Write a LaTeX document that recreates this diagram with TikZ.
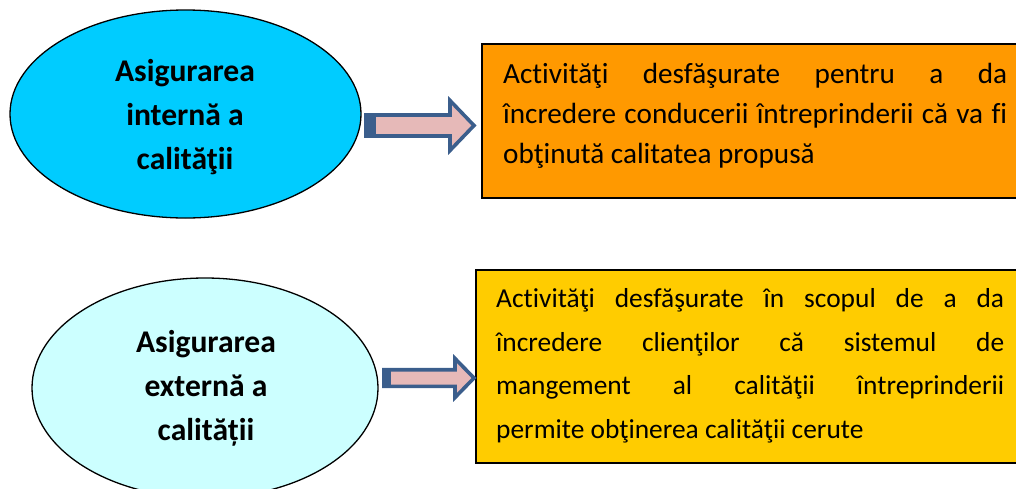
\documentclass[tikz,border=0pt]{standalone}
\usepackage{fontspec}
\setmainfont{Carlito}[RawFeature={-liga;-clig;-calt;-dlig}]
\usetikzlibrary{shapes.geometric}

\definecolor{cyanfill}{HTML}{00CCFF}
\definecolor{palecyan}{HTML}{CCFFFF}
\definecolor{orangefill}{HTML}{FF9900}
\definecolor{goldfill}{HTML}{FFCC00}
\definecolor{arrowblue}{HTML}{3B5E8C}
\definecolor{arrowpink}{HTML}{E6B9B8}

\tikzset{
  oval/.style={ellipse, draw=black, line width=1.3pt, inner sep=0pt},
  ovaltext/.style={font=\fontsize{31.6}{44}\selectfont\bfseries, align=center,
    inner sep=0pt, anchor=base},
  infobox/.style={draw=black, line width=2.4pt, inner sep=0pt, anchor=north west},
  infotext/.style={align=left, inner sep=0pt, anchor=base west},
  % block arrow: length, shaft half-width, head half-width, head length, tail block
  pics/blockarrow/.style n args={5}{code={
    \draw[draw=arrowblue, fill=arrowpink, line width=3.6pt, line join=miter]
      (2,-#2) -- (#1-#4,-#2) -- (#1-#4,-#3) -- (#1-3,0)
      -- (#1-#4,#3) -- (#1-#4,#2) -- (2,#2) -- cycle;
    \fill[arrowblue] (0,-#2-2) rectangle (#5,#2+2);
  }}
}

\begin{document}
\begin{tikzpicture}[x=1pt,y=-1pt]
\useasboundingbox (0,0) rectangle (1016,488);

% upper row: internal quality assurance
% (text nodes are placed by the baseline of their last line)
\node[oval, fill=cyanfill, minimum width=351pt, minimum height=208pt]
  (e1) at (185.5,114) {};
\node[ovaltext] (e1t) at (185,169) {Asigurarea\\internă a\\calităţii};

\node[infobox, fill=orangefill, minimum width=545pt, minimum height=154pt]
  (b1) at (481,43) {};
\node[infotext, font=\fontsize{29.2}{40}\selectfont] (b1t) at (503,163) {%
  \makebox[504pt][s]{Activităţi desfăşurate pentru a da}\\
  \makebox[504pt][s]{încredere conducerii întreprinderii că va fi}\\
  obţinută calitatea propusă};

\coordinate (a1) at (364,125.5);
\pic at (a1) {blockarrow={113}{10.5}{25}{27}{12}};

% lower row: external quality assurance
\node[oval, fill=palecyan, minimum width=346pt, minimum height=220pt]
  (e2) at (205,388) {};
\node[ovaltext] (e2t) at (206,440) {Asigurarea\\externă a\\calității};

\node[infobox, fill=goldfill, minimum width=550pt, minimum height=193pt]
  (b2) at (475,269) {};
\node[infotext, font=\fontsize{27.4}{43.4}\selectfont] (b2t) at (496,438) {%
  \makebox[508pt][s]{Activităţi desfăşurate în scopul de a da}\\
  \makebox[508pt][s]{încredere clienţilor că sistemul de}\\
  \makebox[508pt][s]{mangement al calităţii întreprinderii}\\
  permite obţinerea calităţii cerute};

\coordinate (a2) at (382,378);
\pic at (a2) {blockarrow={95}{8.3}{19.5}{22}{9}};
\end{tikzpicture}
\end{document}
